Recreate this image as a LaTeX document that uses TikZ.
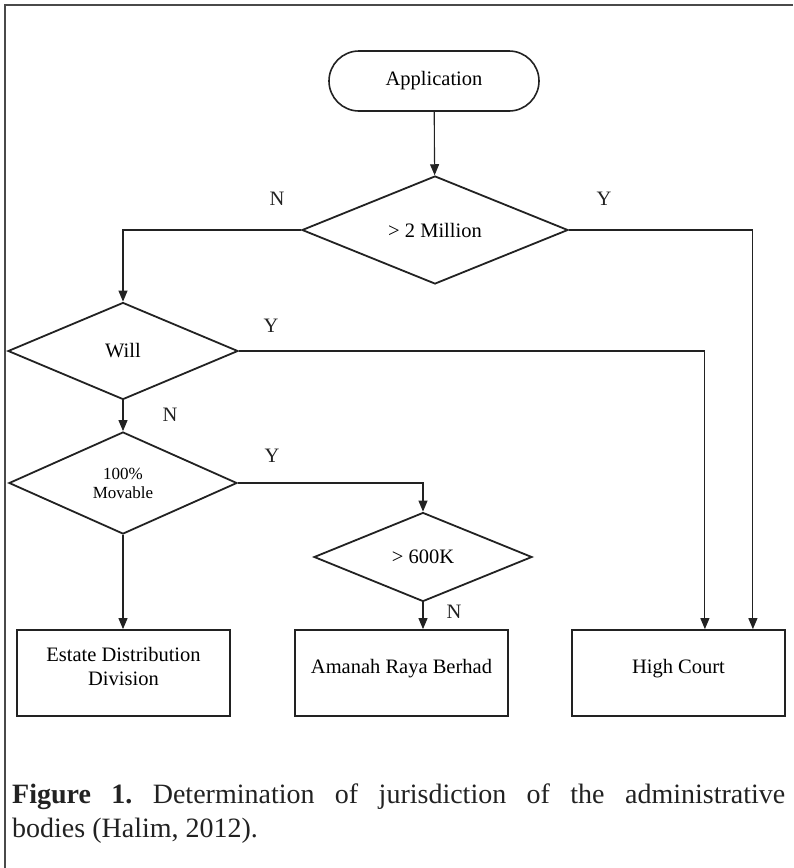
\documentclass[tikz,border=0pt]{standalone}
\usepackage{fontspec}
\setmainfont{Liberation Serif}
\usetikzlibrary{shapes.geometric,arrows.meta}
\definecolor{ink}{HTML}{222222}
\definecolor{framecol}{HTML}{4A4A4A}
\tikzset{
  diafont/.style={font=\fontsize{20.5}{24}\selectfont},
  term/.style={draw=ink, line width=1.6pt, rectangle, rounded corners=30pt,
    minimum width=210pt, minimum height=60pt, inner sep=0pt, diafont},
  dec/.style={draw=ink, line width=1.8pt, diamond, inner sep=0pt, diafont, align=center},
  outbox/.style={draw=ink, line width=1.8pt, rectangle, minimum width=213pt,
    minimum height=86pt, inner sep=0pt, diafont, align=center, text depth=14pt},
  conn/.style={draw=ink, line width=1.1pt},
  arr/.style={conn, -{Triangle[length=11pt,width=9pt]}},
  yn/.style={diafont, inner sep=0pt, text=ink},
}
\frenchspacing
\begin{document}
\begin{tikzpicture}[x=1pt,y=-1pt]
\useasboundingbox (0,0) rectangle (793,868);
\fill[white] (0,0) rectangle (793,868);
% outer frame
\draw[framecol, line width=1.5pt] (5,868) -- (5,5) -- (793,5);

% nodes
\node[term] (app) at (434,81) {Application};
\node[dec, minimum width=266pt, minimum height=95pt] (d1) at (435,230) {> 2 Million};
\node[dec, minimum width=230pt, minimum height=97pt] (will) at (123,351) {Will};
\node[dec, minimum width=228pt, minimum height=102pt, font=\fontsize{17}{19}\selectfont] (mov) at (123,483) {100\%\\Movable};
\node[dec, minimum width=218pt, minimum height=89pt] (k600) at (423,557) {> 600K};
\node[outbox] (edd) at (123.5,673) {Estate Distribution\\Division};
\node[outbox] (arb) at (401.5,673) {Amanah Raya Berhad};
\node[outbox] (hc) at (678.5,673) {High Court};

\coordinate (hcinA) at ([xshift=-81pt]hc.north east);
\coordinate (hcinB) at ([xshift=-33pt]hc.north east);

% connectors
\draw[arr] (app) -- (d1);
\draw[arr] (d1.west) -| (will.north);
\draw[arr] (d1.east) -| (hcinB);
\draw[arr] (will.east) -| (hcinA);
\draw[arr] (will.south) -- (mov.north);
\draw[arr] (mov.east) -| (k600.north);
\draw[arr] (mov.south) -- (mov.south |- edd.north);
\draw[arr] (k600.south) -- (k600.south |- arb.north);

% branch labels
\node[yn] (n1) at (277,199) {N};
\node[yn] (y1) at (604,199) {Y};
\node[yn] (y2) at (271,326) {Y};
\node[yn] (n2) at (170,415) {N};
\node[yn] (y3) at (272,456) {Y};
\node[yn] (n3) at (454,612) {N};

% caption
\node[anchor=base west, inner sep=0pt, text=ink] (cap) at (12,803)
  {\parbox[t]{773pt}{\frenchspacing\fontsize{28}{34}\selectfont\makebox[773pt][s]{\textbf{Figure 1.} Determination of jurisdiction of the administrative}\\
  bodies (Halim, 2012).}};
\end{tikzpicture}
\end{document}
